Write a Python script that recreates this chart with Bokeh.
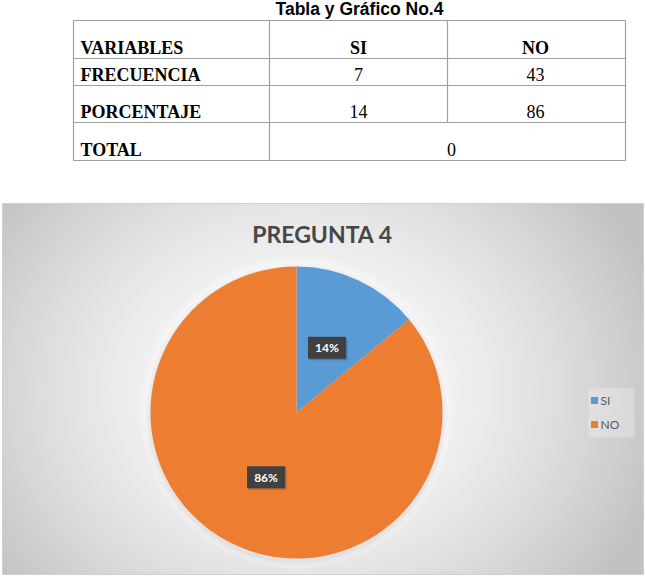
import numpy as np
from bokeh.plotting import figure
from bokeh.models import Range1d
from bokeh.core.properties import value
from bokeh.embed import file_html
from bokeh.resources import INLINE

# ---------------- data ----------------
table_title = "Tabla y Gráfico No.4"
row_labels = ["VARIABLES", "FRECUENCIA", "PORCENTAJE", "TOTAL"]
categories = ["SI", "NO"]
frequency = [7, 43]
percentage = [14, 86]
total_value = "0"
chart_title = "PREGUNTA 4"
colors = ["#5B9BD5", "#ED7D31"]

W, H = 645, 576


def Y(y):
    return H - y


p = figure(width=W, height=H, x_range=Range1d(0, W), y_range=Range1d(0, H),
           output_backend="svg", toolbar_location=None, min_border=0)
p.axis.visible = False
p.grid.visible = False
p.outline_line_color = None
p.background_fill_color = "white"
p.border_fill_color = "white"

# ---------------- table ----------------
p.text(x=[359], y=[Y(8)], text=[table_title], text_font=value("Liberation Sans"),
       text_font_style="bold", text_font_size="17.5px", text_align="center",
       text_baseline="middle", text_color="black")

tx0, tx1, tc1, tc2 = 73, 625, 269, 447
row_y = [20, 58, 85, 122, 160]
line_col = "#a0a0a0"
p.multi_line(xs=[[tx0, tx1]] * len(row_y), ys=[[Y(v), Y(v)] for v in row_y],
             line_color=line_col, line_width=1.2)
p.multi_line(xs=[[tx0, tx0], [tx1, tx1], [tc1, tc1], [tc2, tc2]],
             ys=[[Y(20), Y(160)], [Y(20), Y(160)], [Y(20), Y(160)], [Y(20), Y(122)]],
             line_color=line_col, line_width=1.2)

mid_y = [47, 74, 111, 149]
serif = value("Liberation Serif")
fs = "18px"
p.text(x=[80] * 4, y=[Y(b) for b in mid_y], text=row_labels, text_font=serif,
       text_font_style="bold", text_font_size=fs, text_align="left",
       text_baseline="middle", text_color="black")
col_x = [358, 535]
p.text(x=col_x, y=[Y(mid_y[0])] * 2, text=categories, text_font=serif,
       text_font_style="bold", text_font_size=fs, text_align="center",
       text_baseline="middle", text_color="black")
p.text(x=col_x, y=[Y(mid_y[1])] * 2, text=[str(v) for v in frequency], text_font=serif,
       text_font_size=fs, text_align="center", text_baseline="middle",
       text_color="black")
p.text(x=col_x, y=[Y(mid_y[2])] * 2, text=[str(v) for v in percentage], text_font=serif,
       text_font_size=fs, text_align="center", text_baseline="middle",
       text_color="black")
p.text(x=[451], y=[Y(mid_y[3])], text=[total_value], text_font=serif,
       text_font_size=fs, text_align="center", text_baseline="middle",
       text_color="black")

# ---------------- chart box with radial gradient ----------------
bx0, bx1, by0, by1 = 2, 643, 203, 574
nx, ny = bx1 - bx0, by1 - by0
img = np.empty((ny, nx), dtype=np.uint32)
view = img.view(dtype=np.uint8).reshape((ny, nx, 4))
xs = np.arange(nx) + bx0
ys_img = by1 - np.arange(ny)  # row 0 is bottom
XX, YY = np.meshgrid(xs, ys_img)
cx_g, cy_g = 300, 390
d = np.sqrt(((XX - cx_g) / 380.0) ** 2 + ((YY - cy_g) / 320.0) ** 2)
g = 255 - 62 * np.clip(d, 0, 1) ** 1.6
view[:, :, 0] = g
view[:, :, 1] = g
view[:, :, 2] = g
view[:, :, 3] = 255
p.image_rgba(image=[img], x=bx0, y=Y(by1), dw=nx, dh=ny)
p.quad(left=[bx0], right=[bx1], top=[Y(by0)], bottom=[Y(by1)], fill_color=None,
       line_color="#d0d0d0", line_width=1)

p.text(x=[322], y=[Y(233)], text=[chart_title], text_font=value("Lato"),
       text_font_style="bold", text_font_size="23px", text_align="center",
       text_baseline="middle", text_color="#474747")

# ---------------- pie ----------------
cx, cy, R = 296, 412, 146
# soft glow / shadow
for k, a in [(10, 0.5), (6, 0.5), (3, 0.5)]:
    p.circle(x=[cx], y=[Y(cy)], radius=R + k, radius_units="screen",
             fill_color="white", fill_alpha=a * 0.4, line_color=None)
for k, a in [(5, 0.03), (3, 0.04), (1.5, 0.05)]:
    p.circle(x=[cx], y=[Y(cy + 2)], radius=R + k, radius_units="screen",
             fill_color="#6f6f6f", fill_alpha=a, line_color=None)

tot = float(sum(percentage))
fracs = [v / tot for v in percentage]
cum = np.concatenate([[0.0], np.cumsum(fracs)])
starts = [np.pi / 2 - 2 * np.pi * c for c in cum[:-1]]
ends = [np.pi / 2 - 2 * np.pi * c for c in cum[1:]]
p.wedge(x=[cx] * len(categories), y=[Y(cy)] * len(categories), radius=R,
        radius_units="screen", start_angle=starts, end_angle=ends,
        direction="clock", fill_color=colors, line_color=None)

# data labels
mids = [(a + b) / 2 for a, b in zip(starts, ends)]
rl = 0.49 * R
lx = [cx + rl * np.cos(m) for m in mids]
ly = [cy - rl * np.sin(m) for m in mids]
p.rect(x=[v + 1.5 for v in lx], y=[Y(v + 1.5) for v in ly], width=38, height=22,
       width_units="screen", height_units="screen", fill_color="black",
       fill_alpha=0.2, line_color=None)
p.rect(x=lx, y=[Y(v) for v in ly], width=38, height=22, width_units="screen",
       height_units="screen", fill_color="#404040", line_color=None)
p.text(x=lx, y=[Y(v) for v in ly], text=[f"{v}%" for v in percentage],
       text_font=value("Lato"), text_font_style="bold", text_font_size="12px",
       text_align="center", text_baseline="middle", text_color="white")

# ---------------- legend ----------------
leg_y = [400, 424]
p.quad(left=[588], right=[634], top=[Y(388)], bottom=[Y(437)], fill_color="white",
       fill_alpha=0.25, line_color=None)
p.rect(x=[594] * 2, y=[Y(v) for v in leg_y], width=7, height=7, width_units="screen",
       height_units="screen", fill_color=colors, line_color=None)
p.text(x=[600] * 2, y=[Y(v) for v in leg_y], text=categories, text_font=value("Lato"),
       text_font_size="12px", text_align="left", text_baseline="middle",
       text_color="#595959")

open("out.html", "w").write(file_html(p, INLINE))
